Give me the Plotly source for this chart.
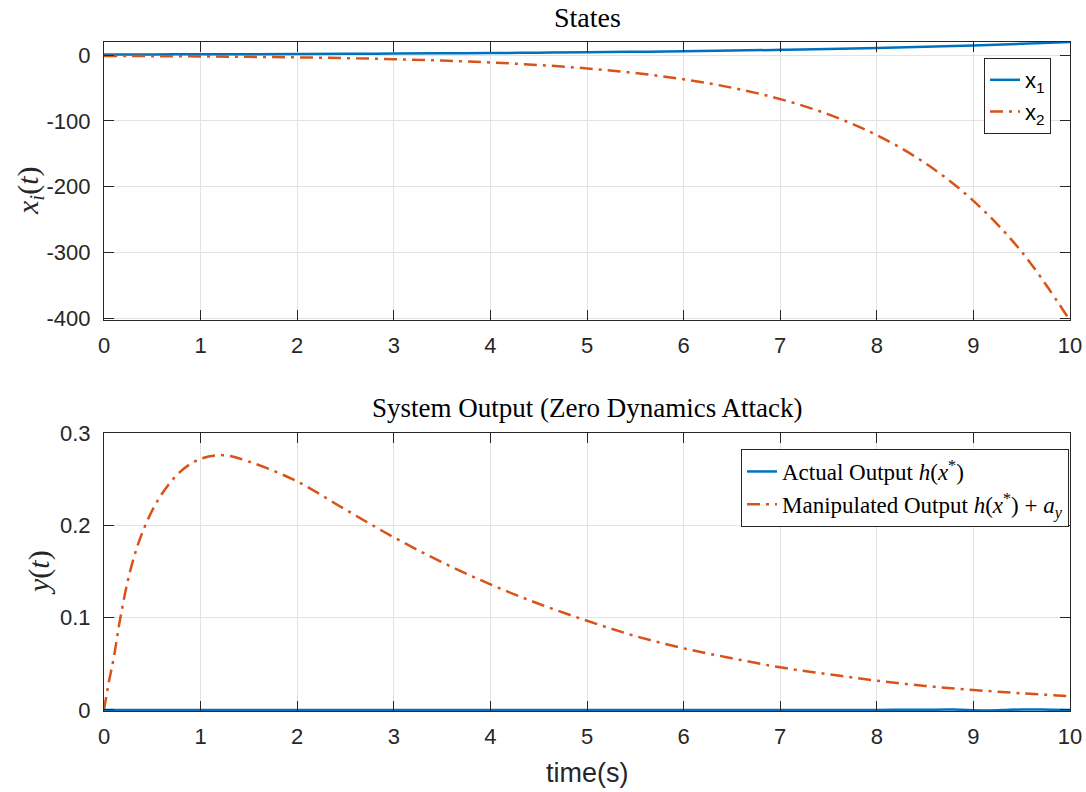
import plotly.graph_objects as go

# ---- State trajectories (sampled every 0.5 s) ----
t_state = [0.0, 0.5, 1.0, 1.5, 2.0, 2.5, 3.0, 3.5, 4.0, 4.5, 5.0,
           5.5, 6.0, 6.5, 7.0, 7.5, 8.0, 8.5, 9.0, 9.5, 10.0]
x1 = [1.0, 1.2, 1.4, 1.6, 1.8, 2.1, 2.5, 2.9, 3.3, 3.9, 4.5,
      5.2, 6.0, 7.0, 8.2, 9.5, 11.0, 12.8, 14.9, 17.3, 20.1]
x2 = [-1.0, -1.4, -1.8, -2.5, -3.3, -4.5, -6.0, -8.2, -11.0, -14.9, -20.1,
      -27.1, -36.6, -49.4, -66.7, -90.0, -121.5, -164.0, -221.4, -298.9, -403.4]

# ---- Output signals ----
t_out = [0.0, 0.05, 0.1, 0.17, 0.27, 0.4, 0.58, 0.8, 1.0, 1.23, 1.5, 2.0,
         2.5, 3.0, 3.5, 4.0, 4.5, 5.0, 5.5, 6.0, 6.5, 7.0, 7.5, 8.0,
         8.5, 9.0, 9.5, 10.0]
y_manip = [0.0, 0.03, 0.056, 0.1, 0.15, 0.193, 0.231, 0.259, 0.272, 0.276,
           0.269, 0.2475, 0.217, 0.187, 0.160, 0.136, 0.115, 0.0966, 0.080,
           0.0667, 0.056, 0.0461, 0.0386, 0.0317, 0.026, 0.0216, 0.018, 0.0148]
t_act = [0.0, 2.0, 4.0, 6.0, 7.5, 8.0, 8.5, 8.8, 9.1, 9.3, 9.5, 9.8, 10.0]
y_act = [0.0, 0.0, 0.0, 0.0, 0.0, 0.0, 0.0002, 0.0003, -0.0006, -0.0002,
         0.0004, 0.0002, 0.0]

# ---- Tick definitions ----
x_ticks = [0, 1, 2, 3, 4, 5, 6, 7, 8, 9, 10]
y_ticks_top = [-400, -300, -200, -100, 0]
y_ticklabels_top = ["-400", "-300", "-200", "-100", "0"]
y_ticks_bot = [0, 0.1, 0.2, 0.3]
y_ticklabels_bot = ["0", "0.1", "0.2", "0.3"]

BLUE = "#0072BD"
ORANGE = "#D95319"
AXC = "#262626"
DASHDOT = "13px,6px,3px,6px"

W, H = 1086, 792
xdom = [104 / W, 1070 / W]
ydom_top = [(H - 320) / H, (H - 42) / H]
ydom_bot = [(H - 711) / H, (H - 433) / H]

fig = go.Figure()
fig.add_trace(go.Scatter(x=t_state, y=x1, mode="lines", name="x<sub>1</sub>",
                         line=dict(color=BLUE, width=2.5, shape="spline"),
                         xaxis="x", yaxis="y", legend="legend"))
fig.add_trace(go.Scatter(x=t_state, y=x2, mode="lines", name="x<sub>2</sub>",
                         line=dict(color=ORANGE, width=2.5, dash=DASHDOT, shape="spline"),
                         xaxis="x", yaxis="y", legend="legend"))
fig.add_trace(go.Scatter(x=t_act, y=y_act, mode="lines",
                         name="Actual Output <i>h</i>(<i>x</i><sup>*</sup>)",
                         line=dict(color=BLUE, width=2.5, shape="spline"),
                         xaxis="x2", yaxis="y2", legend="legend2"))
fig.add_trace(go.Scatter(x=t_out, y=y_manip, mode="lines",
                         name="Manipulated Output <i>h</i>(<i>x</i><sup>*</sup>) + <i>a</i><sub><i>y</i></sub>",
                         line=dict(color=ORANGE, width=2.5, dash=DASHDOT, shape="spline"),
                         xaxis="x2", yaxis="y2", legend="legend2"))

tickfont = dict(family="Liberation Sans, Arial, sans-serif", size=22, color=AXC)
common = dict(showline=True, linecolor=AXC, linewidth=1, mirror="ticks",
              ticks="inside", ticklen=10, tickwidth=1, tickcolor=AXC,
              showgrid=True, gridcolor="#e3e3e3", gridwidth=1, zeroline=False,
              tickfont=tickfont, automargin=False)

fig.update_layout(
    width=W, height=H,
    margin=dict(l=0, r=0, t=0, b=0),
    paper_bgcolor="white", plot_bgcolor="white",
    xaxis=dict(domain=xdom, anchor="y", range=[0, 10], tickvals=x_ticks,
               ticklabelstandoff=6, **common),
    yaxis=dict(domain=ydom_top, anchor="x", range=[-402.6, 20.1],
               tickvals=y_ticks_top, ticktext=y_ticklabels_top,
               ticklabelstandoff=8, **common),
    xaxis2=dict(domain=xdom, anchor="y2", range=[0, 10], tickvals=x_ticks,
                ticklabelstandoff=6, **common),
    yaxis2=dict(domain=ydom_bot, anchor="x2", range=[-0.0012, 0.3],
                tickvals=y_ticks_bot, ticktext=y_ticklabels_bot,
                ticklabelstandoff=8, **common),
    legend=dict(x=1051 / W, y=(H - 58) / H, xanchor="right", yanchor="top",
                bgcolor="white", bordercolor=AXC, borderwidth=1,
                font=dict(family="Liberation Sans, Arial, sans-serif", size=22, color="black")),
    legend2=dict(x=1069 / W, y=(H - 449) / H, xanchor="right", yanchor="top",
                 bgcolor="white", bordercolor=AXC, borderwidth=1,
                 font=dict(family="Liberation Serif, serif", size=23, color="black")),
    showlegend=True,
)

serif = "Liberation Serif, serif"
annotations = [
    dict(text="States", x=587 / W, y=(H - 18) / H, xref="paper", yref="paper",
         xanchor="center", yanchor="middle", showarrow=False,
         font=dict(family=serif, size=28, color="black")),
    dict(text="System Output (Zero Dynamics Attack)", x=587 / W, y=(H - 408) / H,
         xref="paper", yref="paper", xanchor="center", yanchor="middle", showarrow=False,
         font=dict(family=serif, size=27, color="black")),
    dict(text="<i>x<sub>i</sub></i>(<i>t</i>)", x=30 / W, y=(H - 191) / H,
         xref="paper", yref="paper", xanchor="center", yanchor="middle", showarrow=False,
         textangle=-90, font=dict(family=serif, size=30, color=AXC)),
    dict(text="<i>y</i>(<i>t</i>)", x=39 / W, y=(H - 573) / H,
         xref="paper", yref="paper", xanchor="center", yanchor="middle", showarrow=False,
         textangle=-90, font=dict(family=serif, size=30, color=AXC)),
    dict(text="time(s)", x=587 / W, y=(H - 773) / H, xref="paper", yref="paper",
         xanchor="center", yanchor="middle", showarrow=False,
         font=dict(family="Liberation Sans, Arial, sans-serif", size=27, color=AXC)),
]
fig.update_layout(annotations=annotations)

fig.write_html("out.html")
